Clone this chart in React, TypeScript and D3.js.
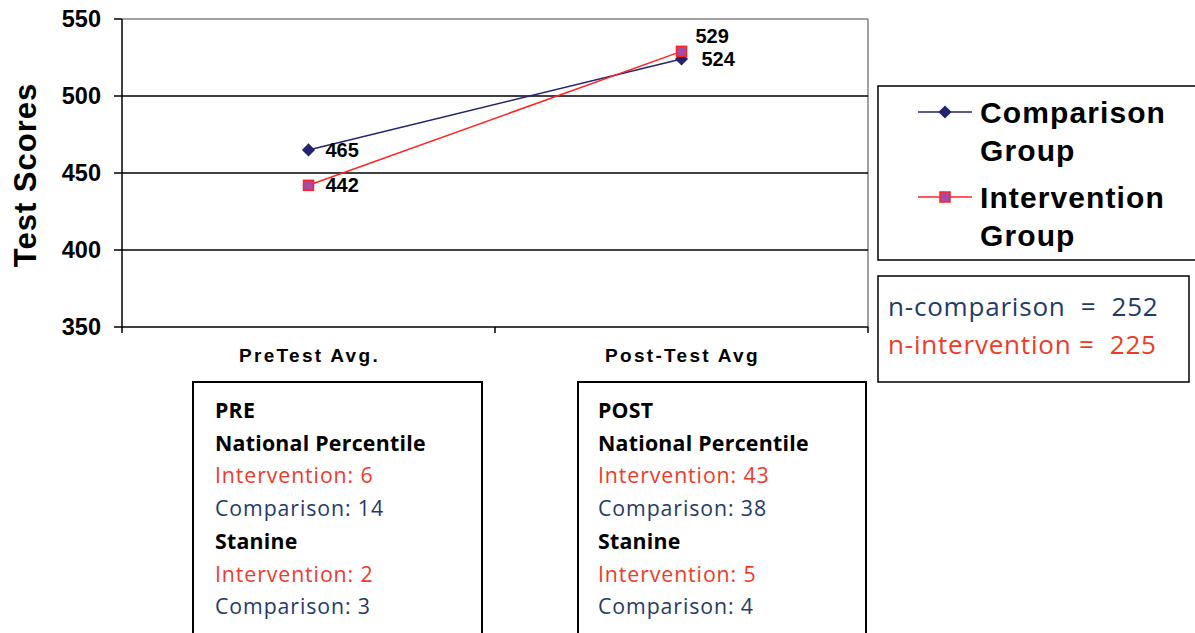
import React from "react";
import * as d3 from "d3";

const categories = ["PreTest Avg.", "Post-Test Avg"];
const comparison = [465, 524];
const intervention = [442, 529];
const yTicks = [350, 400, 450, 500, 550];
const seriesNames = [["Comparison", "Group"], ["Intervention", "Group"]];
const nLines = [
  { label: "n-comparison  =  252", color: "#1F3A6B" },
  { label: "n-intervention =  225", color: "#F03A28" },
];
const preLines = [
  { text: "PRE", kind: "head" },
  { text: "National Percentile", kind: "head" },
  { text: "Intervention: 6", kind: "int" },
  { text: "Comparison: 14", kind: "comp" },
  { text: "Stanine", kind: "head" },
  { text: "Intervention: 2", kind: "int" },
  { text: "Comparison: 3", kind: "comp" },
];
const postLines = [
  { text: "POST", kind: "head" },
  { text: "National Percentile", kind: "head" },
  { text: "Intervention: 43", kind: "int" },
  { text: "Comparison: 38", kind: "comp" },
  { text: "Stanine", kind: "head" },
  { text: "Intervention: 5", kind: "int" },
  { text: "Comparison: 4", kind: "comp" },
];

const NAVY = "#24246E";
const RED = "#FF2222";
const SQ_FILL = "#A64CA6";
const TXT_RED = "#F03A28";
const TXT_NAVY = "#1F3A6B";
const ARIAL = "'Liberation Sans', Arial, sans-serif";
const CAL = "'Open Sans', Lato, sans-serif";

export default function App() {
  const W = 1195, H = 633;
  const left = 122, right = 868, top = 19, bottom = 327;
  const x = d3.scaleBand<string>().domain(categories).range([left, right]);
  const y = d3.scaleLinear().domain([350, 550]).range([bottom, top]);
  const cx = (i: number) => (x(categories[i]) as number) + x.bandwidth() / 2;
  const line = d3.line<number>().x((_, i) => cx(i)).y((d) => y(d));
  const diamond = d3.symbol().type(d3.symbolDiamond2).size(110)();

  const compLabelOff = [[17, 7], [20, 7]];
  const intLabelOff = [[17, 7], [14, -8]];

  const boxText = (lines: typeof preLines, bx: number) =>
    lines.map((l, i) => (
      <text
        key={i}
        x={bx}
        y={418 + i * 32.7}
        fontFamily={CAL}
        fontSize={21.3}
        letterSpacing={l.kind === "head" ? 0.25 : 0.9}
        fontWeight={l.kind === "head" ? 700 : 400}
        fill={l.kind === "head" ? "#000" : l.kind === "int" ? TXT_RED : TXT_NAVY}
      >
        {l.text}
      </text>
    ));

  return (
    <svg width={W} height={H} style={{ position: "absolute", left: 0, top: 0, background: "#fff" }}>
      {/* plot frame */}
      <line x1={left} x2={right} y1={top} y2={top} stroke="#808080" strokeWidth={1.5} />
      <line x1={right} x2={right} y1={top} y2={bottom} stroke="#808080" strokeWidth={1.5} />
      {yTicks.slice(1, -1).map((t) => (
        <line key={t} x1={left} x2={right} y1={y(t)} y2={y(t)} stroke="#000" strokeWidth={1.5} />
      ))}
      {/* axes */}
      <line x1={left} x2={left} y1={top} y2={bottom + 6} stroke="#000" strokeWidth={1.5} />
      <line x1={left} x2={right} y1={bottom} y2={bottom} stroke="#000" strokeWidth={1.5} />
      {yTicks.map((t) => (
        <g key={t}>
          <line x1={left - 8} x2={left} y1={y(t)} y2={y(t)} stroke="#000" strokeWidth={1.5} />
          <text x={101} y={y(t) + 8} textAnchor="end" fontFamily={ARIAL} fontWeight={700} fontSize={23.5} fill="#000">
            {t}
          </text>
        </g>
      ))}
      {[left + x.bandwidth(), right].map((v, i) => (
        <line key={i} x1={v} x2={v} y1={bottom} y2={bottom + 6} stroke="#000" strokeWidth={1.5} />
      ))}
      {categories.map((c, i) => (
        <text key={c} x={cx(i) + 1} y={362} textAnchor="middle" fontFamily={ARIAL} fontWeight={700} fontSize={19} letterSpacing={2.3} fill="#000">
          {c}
        </text>
      ))}
      <text
        transform={`translate(36,175) rotate(-90)`}
        textAnchor="middle"
        fontFamily={ARIAL}
        fontWeight={700}
        fontSize={31}
        letterSpacing={1}
        fill="#000"
      >
        Test Scores
      </text>

      {/* series */}
      <path d={line(comparison) as string} fill="none" stroke={NAVY} strokeWidth={1.5} />
      <path d={line(intervention) as string} fill="none" stroke={RED} strokeWidth={1.5} />
      {comparison.map((v, i) => (
        <path key={"c" + i} d={diamond as string} transform={`translate(${cx(i)},${y(v)})`} fill={NAVY} />
      ))}
      {intervention.map((v, i) => (
        <rect key={"r" + i} x={cx(i) - 5} y={y(v) - 5} width={10} height={10} fill={SQ_FILL} stroke={RED} strokeWidth={1.5} />
      ))}
      {comparison.map((v, i) => (
        <text key={"cl" + i} x={cx(i) + compLabelOff[i][0]} y={y(v) + compLabelOff[i][1]} fontFamily={ARIAL} fontWeight={700} fontSize={20} fill="#000">
          {v}
        </text>
      ))}
      {intervention.map((v, i) => (
        <text key={"il" + i} x={cx(i) + intLabelOff[i][0]} y={y(v) + intLabelOff[i][1]} fontFamily={ARIAL} fontWeight={700} fontSize={20} fill="#000">
          {v}
        </text>
      ))}

      {/* legend */}
      <rect x={878} y={86} width={330} height={174} fill="#fff" stroke="#000" strokeWidth={1.5} />
      {seriesNames.map((names, i) => {
        const ly = 112 + i * 85;
        return (
          <g key={i}>
            <line x1={918} x2={972} y1={ly} y2={ly} stroke={i === 0 ? NAVY : RED} strokeWidth={1.5} />
            {i === 0 ? (
              <path d={diamond as string} transform={`translate(945,${ly})`} fill={NAVY} />
            ) : (
              <rect x={940} y={ly - 5} width={10} height={10} fill={SQ_FILL} stroke={RED} strokeWidth={1.5} />
            )}
            {names.map((n, j) => (
              <text key={j} x={980} y={ly + 11 + j * 38} fontFamily={ARIAL} fontWeight={700} fontSize={30} letterSpacing={1.1} fill="#000">
                {n}
              </text>
            ))}
          </g>
        );
      })}
      <rect x={878} y={276} width={311} height={106} fill="#fff" stroke="#000" strokeWidth={1.5} />
      {nLines.map((l, i) => (
        <text key={i} x={888} y={316 + i * 38} fontFamily={CAL} fontSize={26} letterSpacing={0.8} fill={l.color} style={{ whiteSpace: "pre" }}>
          {l.label}
        </text>
      ))}

      {/* stat boxes */}
      <path d={`M193,${H + 2}V382H482V${H + 2}`} fill="#fff" stroke="#000" strokeWidth={2} />
      {boxText(preLines, 215)}
      <path d={`M578,${H + 2}V382H866V${H + 2}`} fill="#fff" stroke="#000" strokeWidth={2} />
      {boxText(postLines, 598)}
    </svg>
  );
}
